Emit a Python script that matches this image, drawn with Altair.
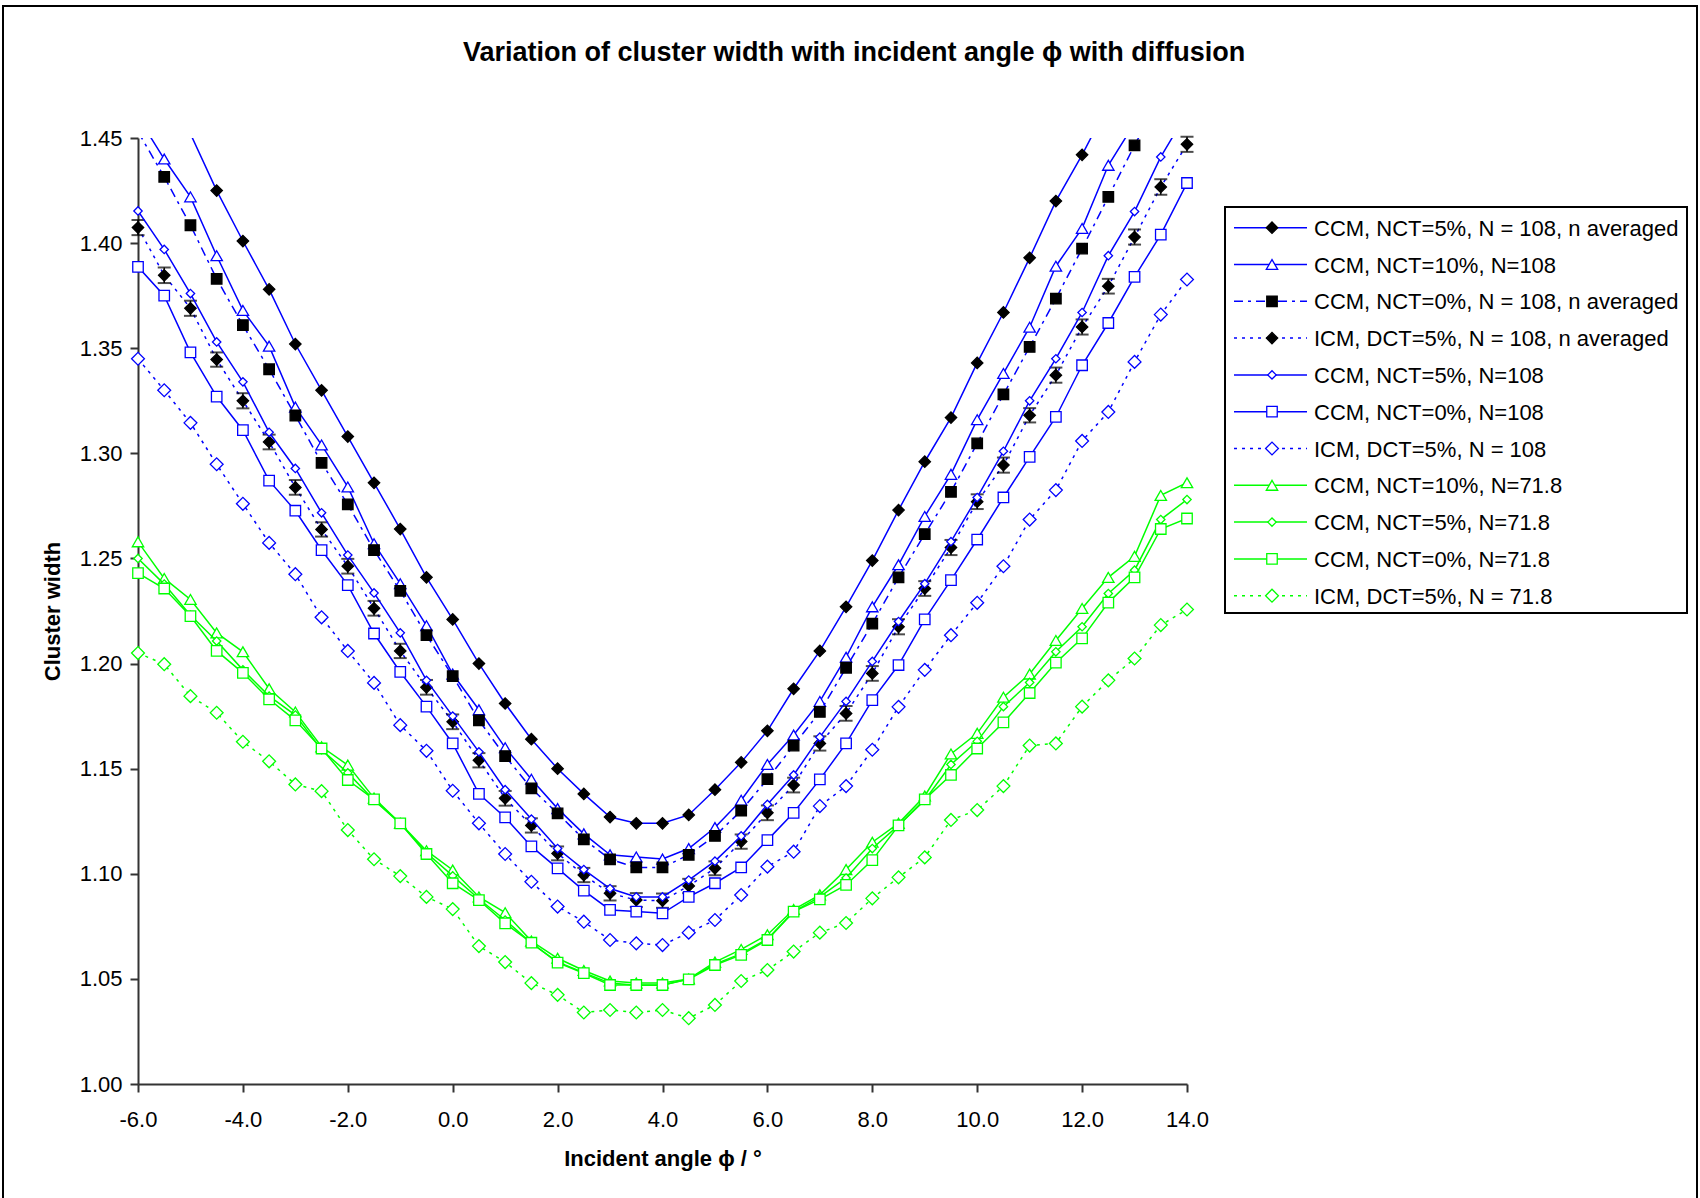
import altair as alt
import pandas as pd

# ---------------- data ----------------
angles = [-6.0, -5.5, -5.0, -4.5, -4.0, -3.5, -3.0, -2.5, -2.0, -1.5, -1.0, -0.5,
          0.0, 0.5, 1.0, 1.5, 2.0, 2.5, 3.0, 3.5, 4.0, 4.5, 5.0, 5.5, 6.0, 6.5,
          7.0, 7.5, 8.0, 8.5, 9.0, 9.5, 10.0, 10.5, 11.0, 11.5, 12.0, 12.5, 13.0,
          13.5, 14.0]

ccm5_n108_avg = [1.500, 1.476, 1.452, 1.425, 1.401, 1.378, 1.352, 1.330, 1.308, 1.286,
                 1.264, 1.241, 1.221, 1.200, 1.181, 1.164, 1.150, 1.138, 1.127, 1.124,
                 1.124, 1.128, 1.140, 1.153, 1.168, 1.188, 1.206, 1.227, 1.249, 1.273,
                 1.296, 1.317, 1.343, 1.367, 1.393, 1.420, 1.442, 1.466, 1.490, 1.514, 1.538]

ccm10_n108 = [1.460, 1.440, 1.422, 1.394, 1.368, 1.351, 1.322, 1.304, 1.284, 1.257,
              1.238, 1.218, 1.195, 1.178, 1.160, 1.145, 1.131, 1.119, 1.109, 1.108,
              1.107, 1.112, 1.122, 1.135, 1.152, 1.166, 1.182, 1.203, 1.227, 1.247,
              1.270, 1.290, 1.316, 1.338, 1.360, 1.389, 1.407, 1.437, 1.457, 1.478, 1.500]

ccm0_n108_avg = [1.453, 1.4315, 1.4085, 1.383, 1.361, 1.340, 1.318, 1.2955, 1.2757, 1.254,
                 1.2346, 1.2135, 1.194, 1.173, 1.156, 1.1406, 1.1287, 1.1164, 1.1069, 1.103,
                 1.103, 1.109, 1.118, 1.130, 1.145, 1.161, 1.177, 1.198, 1.219, 1.241,
                 1.2616, 1.2817, 1.3047, 1.328, 1.3506, 1.3736, 1.3974, 1.422, 1.4465, 1.470, 1.490]

icm5_n108_avg = [1.4074, 1.3847, 1.369, 1.3446, 1.325, 1.3054, 1.2838, 1.2638, 1.2463, 1.2263,
                 1.206, 1.1887, 1.1723, 1.154, 1.1359, 1.123, 1.1097, 1.0994, 1.0907, 1.0875,
                 1.0872, 1.0942, 1.1026, 1.1153, 1.129, 1.1422, 1.162, 1.1763, 1.1953, 1.2175,
                 1.2357, 1.2552, 1.277, 1.2944, 1.3181, 1.3372, 1.3601, 1.3795, 1.4029, 1.4267, 1.4470]

icm5_n108_avg_err = [0.0036, 0.0037, 0.0036, 0.0034, 0.0036, 0.0035, 0.0035, 0.0034, 0.0035, 0.0035,
                     0.0034, 0.0035, 0.0035, 0.0034, 0.0035, 0.0034, 0.0033, 0.0034, 0.0034, 0.0033,
                     0.0034, 0.0034, 0.0033, 0.0034, 0.0035, 0.0035, 0.0034, 0.0035, 0.0035, 0.0036,
                     0.0035, 0.0036, 0.0035, 0.0036, 0.0034, 0.0036, 0.0036, 0.0035, 0.0036, 0.0037, 0.0036]

ccm5_n108 = [1.4153, 1.397, 1.376, 1.353, 1.334, 1.310, 1.2928, 1.2717, 1.2516, 1.2336,
             1.2146, 1.192, 1.175, 1.158, 1.140, 1.126, 1.112, 1.102, 1.093, 1.089,
             1.089, 1.097, 1.106, 1.118, 1.133, 1.147, 1.165, 1.182, 1.201, 1.220,
             1.238, 1.258, 1.279, 1.301, 1.325, 1.345, 1.367, 1.394, 1.415, 1.441, 1.462]

ccm0_n108 = [1.3887, 1.375, 1.348, 1.327, 1.311, 1.287, 1.2727, 1.254, 1.2373, 1.2143,
             1.196, 1.1795, 1.162, 1.138, 1.1268, 1.113, 1.1026, 1.092, 1.0828, 1.082,
             1.0812, 1.089, 1.0955, 1.103, 1.116, 1.129, 1.1449, 1.162, 1.1826, 1.1993,
             1.221, 1.2397, 1.259, 1.279, 1.2983, 1.3173, 1.3419, 1.362, 1.3839, 1.404, 1.4286]

icm5_n108 = [1.345, 1.330, 1.3145, 1.2948, 1.276, 1.2574, 1.2425, 1.222, 1.206, 1.1908,
             1.1707, 1.1585, 1.1395, 1.124, 1.1094, 1.0962, 1.0844, 1.0772, 1.0685, 1.0669,
             1.0661, 1.072, 1.078, 1.0899, 1.1034, 1.1105, 1.1322, 1.1417, 1.159, 1.1794,
             1.197, 1.2135, 1.2289, 1.2463, 1.2685, 1.2825, 1.3059, 1.3197, 1.3435, 1.366, 1.3827]

ccm10_n718 = [1.2579, 1.2405, 1.2305, 1.2146, 1.2056, 1.188, 1.177, 1.1604, 1.1517, 1.136,
              1.124, 1.111, 1.1018, 1.089, 1.0815, 1.068, 1.0598, 1.054, 1.049, 1.048,
              1.048, 1.050, 1.058, 1.064, 1.071, 1.083, 1.090, 1.102, 1.115, 1.124,
              1.137, 1.157, 1.1668, 1.184, 1.195, 1.211, 1.2262, 1.241, 1.251, 1.280, 1.286]

ccm5_n718 = [1.250, 1.2378, 1.223, 1.2107, 1.197, 1.1845, 1.1755, 1.159, 1.148, 1.135,
             1.124, 1.110, 1.099, 1.088, 1.078, 1.067, 1.058, 1.053, 1.048, 1.047,
             1.047, 1.050, 1.057, 1.062, 1.069, 1.082, 1.089, 1.098, 1.112, 1.123,
             1.135, 1.152, 1.163, 1.1795, 1.191, 1.2056, 1.2175, 1.2333, 1.2444, 1.2685, 1.278]

ccm0_n718 = [1.243, 1.2357, 1.2226, 1.206, 1.1956, 1.183, 1.173, 1.1596, 1.1446, 1.1354,
             1.124, 1.1094, 1.0955, 1.0875, 1.0764, 1.0672, 1.0577, 1.0527, 1.0471, 1.0471,
             1.0471, 1.0498, 1.0566, 1.0614, 1.0685, 1.082, 1.0878, 1.0947, 1.1065, 1.123,
             1.1354, 1.147, 1.1596, 1.172, 1.186, 1.2004, 1.212, 1.229, 1.241, 1.264, 1.269]

icm5_n718 = [1.205, 1.1997, 1.1845, 1.1766, 1.1628, 1.1535, 1.1425, 1.1393, 1.1208, 1.1069,
             1.0989, 1.089, 1.0832, 1.0656, 1.058, 1.048, 1.0424, 1.034, 1.0352, 1.034,
             1.0352, 1.0313, 1.0376, 1.049, 1.0542, 1.063, 1.072, 1.0766, 1.0883, 1.0983,
             1.1078, 1.1256, 1.1303, 1.1417, 1.161, 1.162, 1.1795, 1.192, 1.2024, 1.2183, 1.2257]

series_names = [
    "CCM, NCT=5%, N = 108, n averaged",
    "CCM, NCT=10%, N=108",
    "CCM, NCT=0%, N = 108, n averaged",
    "ICM, DCT=5%, N = 108, n averaged",
    "CCM, NCT=5%, N=108",
    "CCM, NCT=0%, N=108",
    "ICM, DCT=5%, N = 108",
    "CCM, NCT=10%, N=71.8",
    "CCM, NCT=5%, N=71.8",
    "CCM, NCT=0%, N=71.8",
    "ICM, DCT=5%, N = 71.8",
]
series_values = [ccm5_n108_avg, ccm10_n108, ccm0_n108_avg, icm5_n108_avg, ccm5_n108,
                 ccm0_n108, icm5_n108, ccm10_n718, ccm5_n718, ccm0_n718, icm5_n718]

x_ticks = [-6, -4, -2, 0, 2, 4, 6, 8, 10, 12, 14]
y_ticks = [1.00, 1.05, 1.10, 1.15, 1.20, 1.25, 1.30, 1.35, 1.40, 1.45]

title_text = "Variation of cluster width with incident angle ϕ with diffusion"
x_title = "Incident angle ϕ / °"
y_title = "Cluster width"

# ---------------- styles ----------------
BLUE = "#0000FF"
GREEN = "#00FF00"
FONT = "Liberation Sans"
SOLID = None
DOT = [3, 5]
DASHDOT = [9, 5, 3, 5]

styles = [
    dict(color=BLUE, dash=SOLID, shape="diamond", fill="black", stroke="black", size=130),
    dict(color=BLUE, dash=SOLID, shape="triangle-up", fill="white", stroke=BLUE, size=130),
    dict(color=BLUE, dash=DASHDOT, shape="square", fill="black", stroke="black", size=110),
    dict(color=BLUE, dash=DOT, shape="diamond", fill="black", stroke="black", size=130),
    dict(color=BLUE, dash=SOLID, shape="diamond", fill="white", stroke=BLUE, size=70),
    dict(color=BLUE, dash=SOLID, shape="square", fill="white", stroke=BLUE, size=110),
    dict(color=BLUE, dash=DOT, shape="diamond", fill="white", stroke=BLUE, size=165),
    dict(color=GREEN, dash=SOLID, shape="triangle-up", fill="white", stroke=GREEN, size=130),
    dict(color=GREEN, dash=SOLID, shape="diamond", fill="white", stroke=GREEN, size=70),
    dict(color=GREEN, dash=SOLID, shape="square", fill="white", stroke=GREEN, size=110),
    dict(color=GREEN, dash=DOT, shape="diamond", fill="white", stroke=GREEN, size=165),
]

W, H = 1049, 946

xscale = alt.Scale(domain=[-6, 14], nice=False, zero=False)
yscale = alt.Scale(domain=[1.0, 1.45], nice=False, zero=False)

xaxis = alt.Axis(values=x_ticks, grid=False, tickSize=8, tickWidth=2, tickColor="#333333",
                 domainColor="#333333", domainWidth=2,
                 labelExpr="(datum.value < 0 ? '-' : '') + format(abs(datum.value), '.1f')",
                 labelFont=FONT, labelFontSize=22, labelColor="black", labelPadding=17,
                 labelFlush=False, title=x_title, titleFont=FONT, titleFontSize=22,
                 titleFontWeight="bold", titleColor="black", titlePadding=18)
yaxis = alt.Axis(values=y_ticks, format=".2f", grid=False, tickSize=8, tickWidth=2,
                 tickColor="#333333", domainColor="#333333", domainWidth=2,
                 labelFont=FONT, labelFontSize=22, labelColor="black", labelPadding=8,
                 labelFlush=False, title=y_title, titleFont=FONT, titleFontSize=22,
                 titleFontWeight="bold", titleColor="black", titlePadding=15)

X = alt.X("angle:Q", scale=xscale, axis=xaxis)
Y = alt.Y("width:Q", scale=yscale, axis=yaxis)

one = alt.Data(values=[{"k": 0}])

layers = []

# outer frame (decoration)
layers.append(alt.Chart(one).mark_rect(fillOpacity=0, stroke="black", strokeWidth=2).encode(
    x=alt.value(-135), x2=alt.value(1559), y=alt.value(-132), y2=alt.value(1080)))

# title
layers.append(alt.Chart(one).mark_text(font=FONT, fontSize=27, fontWeight="bold", color="black",
                                       align="center", baseline="middle").encode(
    x=alt.value(716), y=alt.value(-85), text=alt.value(title_text)))

for i, (name, vals) in enumerate(zip(series_names, series_values)):
    st = styles[i]
    df = pd.DataFrame({"angle": angles, "width": vals})
    line_kw = dict(color=st["color"], strokeWidth=1.5, clip=True)
    if st["dash"] is not None:
        line_kw["strokeDash"] = st["dash"]
    layers.append(alt.Chart(df).mark_line(**line_kw).encode(x=X, y=Y))
    if i == 3:
        edf = pd.DataFrame({"angle": angles, "width": vals, "err": icm5_n108_avg_err})
        base = alt.Chart(edf).transform_filter("datum.width <= 1.4505").transform_calculate(
            lo="datum.width - datum.err", hi="datum.width + datum.err")
        layers.append(base.mark_rule(color="black", strokeWidth=1.5).encode(
            x=X, y=alt.Y("lo:Q", scale=yscale, axis=yaxis), y2="hi:Q"))
        layers.append(base.mark_tick(color="black", orient="horizontal", size=13, thickness=2).encode(
            x=X, y=alt.Y("lo:Q", scale=yscale, axis=yaxis)))
        layers.append(base.mark_tick(color="black", orient="horizontal", size=13, thickness=2).encode(
            x=X, y=alt.Y("hi:Q", scale=yscale, axis=yaxis)))
    layers.append(alt.Chart(df).transform_filter("datum.width <= 1.4505").mark_point(
        shape=st["shape"], filled=True, fill=st["fill"], stroke=st["stroke"], strokeWidth=1.3,
        size=st["size"], opacity=1).encode(x=X, y=Y))

# legend
LX0, LY0 = 1087, 69
layers.append(alt.Chart(one).mark_rect(fill="white", stroke="black", strokeWidth=2).encode(
    x=alt.value(LX0), x2=alt.value(1549), y=alt.value(LY0), y2=alt.value(475)))
for i, name in enumerate(series_names):
    st = styles[i]
    ly = 89.7 + 36.8 * i
    rule_kw = dict(color=st["color"], strokeWidth=1.5)
    if st["dash"] is not None:
        rule_kw["strokeDash"] = st["dash"]
    layers.append(alt.Chart(one).mark_rule(**rule_kw).encode(
        x=alt.value(1096), x2=alt.value(1169), y=alt.value(ly)))
    layers.append(alt.Chart(one).mark_point(
        shape=st["shape"], filled=True, fill=st["fill"], stroke=st["stroke"], strokeWidth=1.3,
        size=st["size"], opacity=1).encode(x=alt.value(1134), y=alt.value(ly)))
    layers.append(alt.Chart(one).mark_text(font=FONT, fontSize=22, color="black", align="left",
                                           baseline="middle").encode(
        x=alt.value(1176), y=alt.value(ly + 1), text=alt.value(name)))

chart = alt.layer(*layers).properties(
    width=W, height=H,
    padding={"left": 138, "top": 138, "right": 513, "bottom": 114},
    autosize=alt.AutoSizeParams(type="none"),
    background="white",
).configure_view(strokeWidth=0)

chart.save("out.html", embed_options={"renderer": "svg", "actions": False})
